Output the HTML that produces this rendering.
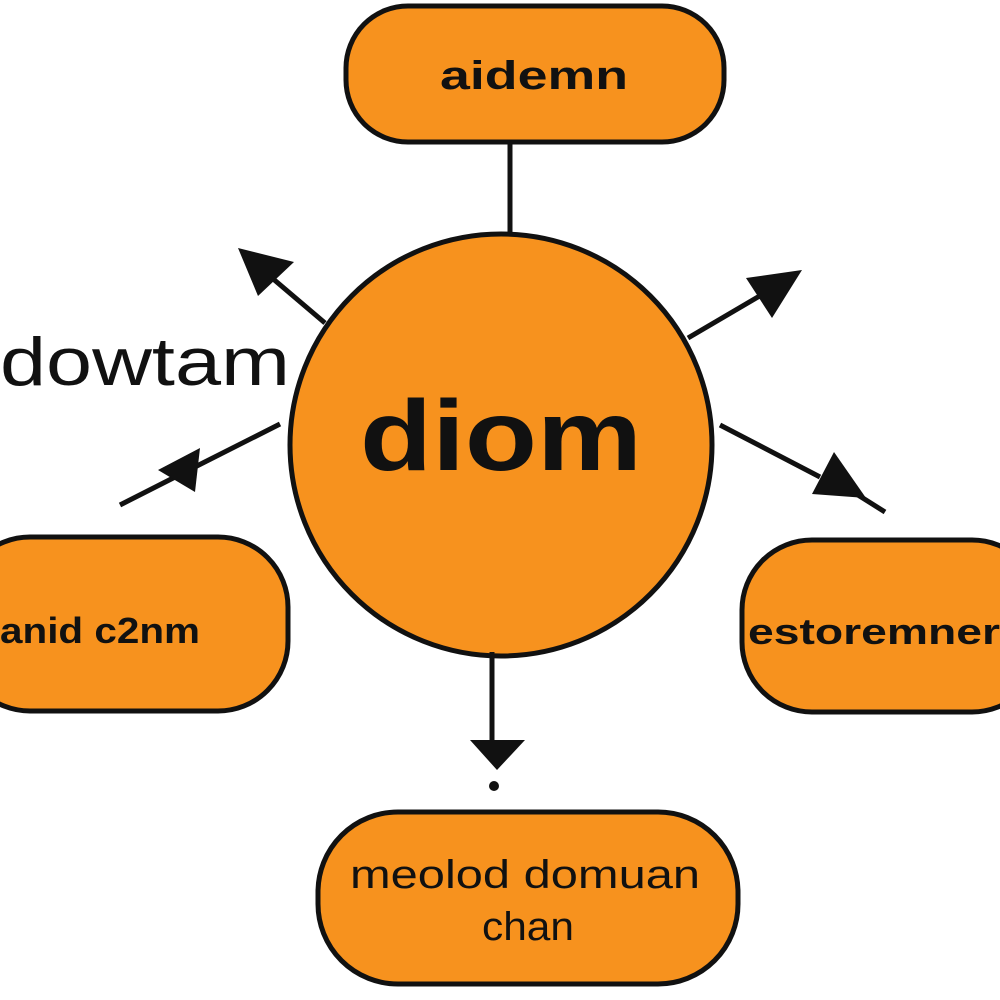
<!DOCTYPE html>
<html><head><meta charset="utf-8"><style>
html,body{margin:0;padding:0;background:#fff;width:1000px;height:1000px;overflow:hidden}
svg{display:block}
</style></head><body>
<svg width="1000" height="1000" viewBox="0 0 1000 1000" xmlns="http://www.w3.org/2000/svg">
<g stroke="#111" stroke-width="5" fill="#F7921E">
<rect x="346" y="6" width="378" height="136" rx="62"/>
<rect x="-40" y="537" width="328" height="174" rx="70"/>
<rect x="742" y="540" width="300" height="172" rx="70"/>
<rect x="318" y="812" width="420" height="172" rx="80"/>
<circle cx="501" cy="445" r="211"/>
</g>
<g stroke="#111" stroke-width="5" fill="none">
<line x1="510" y1="142" x2="510" y2="234"/>
<line x1="492" y1="652" x2="492" y2="745"/>
<line x1="325" y1="323" x2="265" y2="272"/>
<line x1="688" y1="338" x2="775" y2="287"/>
<line x1="280" y1="424" x2="185" y2="472"/>
<line x1="185" y1="472" x2="120" y2="505"/>
<line x1="720" y1="425" x2="820" y2="477"/>
<line x1="850" y1="490" x2="885" y2="512"/>
</g>
<g fill="#111">
<polygon points="470,740 525,740 497,770"/>
<circle cx="494" cy="786" r="5"/>
<polygon points="238,248 294,262 258,296"/>
<polygon points="802,270 746,278 772,318"/>
<polygon points="158,470 200,448 195,492"/>
<polygon points="866,498 812,494 834,452"/>
</g>
<g font-family="Liberation Sans, sans-serif" fill="#111" font-weight="bold">
<text x="440" y="89" font-size="40" textLength="188" lengthAdjust="spacingAndGlyphs">aidemn</text>
<text x="360" y="470" font-size="100" textLength="282" lengthAdjust="spacingAndGlyphs">diom</text>
<text x="0" y="643" font-size="36" textLength="200" lengthAdjust="spacingAndGlyphs">anid c2nm</text>
<text x="748" y="644" font-size="36" textLength="252" lengthAdjust="spacingAndGlyphs">estoremner</text>
<text x="350" y="888" font-size="40" font-weight="normal" textLength="350" lengthAdjust="spacingAndGlyphs">meolod domuan</text>
<text x="482" y="940" font-size="40" font-weight="normal" textLength="92" lengthAdjust="spacingAndGlyphs">chan</text>
<text x="0" y="385" font-size="68" font-weight="normal" textLength="290" lengthAdjust="spacingAndGlyphs">dowtam</text>
</g>
</svg>
</body></html>
